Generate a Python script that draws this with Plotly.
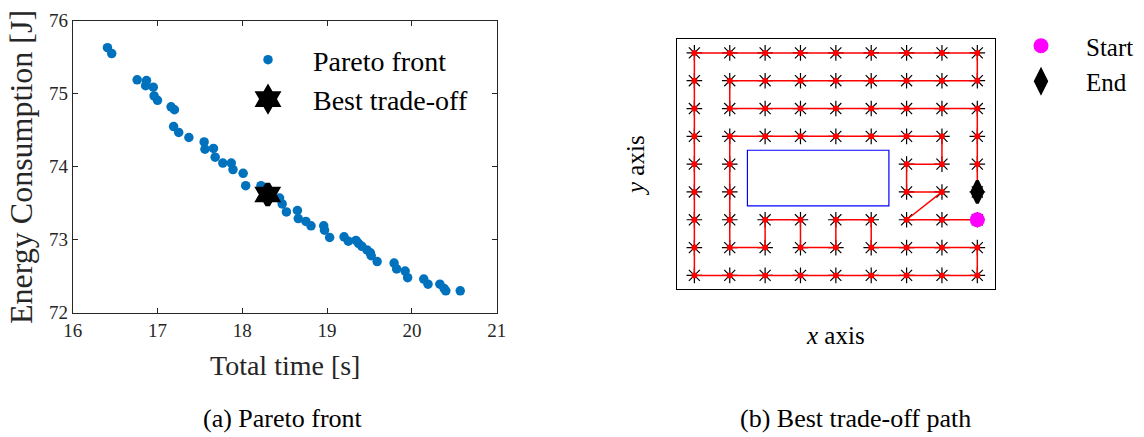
import plotly.graph_objects as go

# ---------------- Pareto front data ----------------
pareto_time = [16.41, 16.46, 16.76, 16.87, 16.86, 16.95, 16.96, 17.00, 17.16, 17.20,
               17.19, 17.25, 17.37, 17.55, 17.56, 17.66, 17.68, 17.77, 17.87, 17.89,
               18.01, 18.04, 18.22, 18.30, 18.44, 18.47, 18.52, 18.65, 18.66, 18.75,
               18.81, 18.96, 18.97, 19.03, 19.20, 19.25, 19.34, 19.37, 19.41, 19.47,
               19.51, 19.52, 19.59, 19.79, 19.82, 19.92, 19.95, 20.14, 20.19, 20.33,
               20.38, 20.40, 20.57]
pareto_energy = [75.63, 75.55, 75.19, 75.18, 75.11, 75.09, 74.97, 74.91, 74.82, 74.78,
                 74.55, 74.47, 74.40, 74.34, 74.24, 74.25, 74.13, 74.05, 74.05, 73.96,
                 73.91, 73.74, 73.74, 73.63, 73.57, 73.49, 73.38, 73.40, 73.29, 73.25,
                 73.19, 73.19, 73.13, 73.03, 73.04, 72.98, 72.99, 72.95, 72.91, 72.86,
                 72.82, 72.78, 72.70, 72.68, 72.60, 72.57, 72.48, 72.46, 72.39, 72.39,
                 72.33, 72.30, 72.30]
best_time = [18.30]
best_energy = [73.62]

time_ticks = [16, 17, 18, 19, 20, 21]
energy_ticks = [72, 73, 74, 75, 76]

# ---------------- Grid path data ----------------
# '*' = free node, '.' = node inside the obstacle; first string is the top row (y = 9)
grid_map = [
    "*********",
    "*********",
    "*********",
    "*********",
    "**....***",
    "**....***",
    "*********",
    "*********",
    "*********",
]
obstacle_x = [2.5, 6.5]
obstacle_y = [3.5, 5.5]

path_x = [9, 8, 7, 8, 7, 7, 8, 8,
          7, 6, 5, 4, 3, 2,
          2, 2, 2, 2,
          3, 3, 4, 4, 5, 5, 6, 6,
          7, 8, 9, 9,
          8, 7, 6, 5, 4, 3, 2, 1,
          1, 1, 1, 1, 1, 1, 1, 1,
          2, 3, 4, 5, 6, 7, 8, 9,
          9, 8, 7, 6, 5, 4, 3, 2,
          2, 3, 4, 5, 6, 7, 8, 9,
          9, 9, 9]
path_y = [3, 3, 3, 4, 4, 5, 5, 6,
          6, 6, 6, 6, 6, 6,
          5, 4, 3, 2,
          2, 3, 3, 2, 2, 3, 3, 2,
          2, 2, 2, 1,
          1, 1, 1, 1, 1, 1, 1, 1,
          2, 3, 4, 5, 6, 7, 8, 9,
          9, 9, 9, 9, 9, 9, 9, 9,
          8, 8, 8, 8, 8, 8, 8, 8,
          7, 7, 7, 7, 7, 7, 7, 7,
          6, 5, 4]
start_xy = (9, 3)
end_xy = (9, 4)

node_x, node_y = [], []
n_rows = len(grid_map)
for i, row in enumerate(grid_map):
    for j, ch in enumerate(row):
        if ch == "*":
            node_x.append(j + 1)
            node_y.append(n_rows - i)

W, H = 1144, 437
SERIF = "Liberation Serif"
AX = "#262626"


def px(x):
    return x / W


def py(y):
    return 1 - y / H


def serif(size, color="black"):
    return dict(family=SERIF, size=size, color=color)


fig = go.Figure()

# (a) Pareto front
fig.add_trace(go.Scatter(
    x=pareto_time, y=pareto_energy, mode="markers", name="Pareto front",
    marker=dict(color="#0072BD", size=9.5), xaxis="x", yaxis="y", legend="legend"))
fig.add_trace(go.Scatter(
    x=best_time, y=best_energy, mode="markers", name="Best trade-off",
    marker=dict(color="black", size=16, symbol="hexagram",
                line=dict(color="black", width=5)),
    xaxis="x", yaxis="y", legend="legend"))

# (b) grid nodes, path, start and end
fig.add_trace(go.Scatter(
    x=node_x, y=node_y, mode="markers", showlegend=False,
    marker=dict(symbol="asterisk-open", size=13, color="black",
                line=dict(color="black", width=1.2)),
    xaxis="x2", yaxis="y2"))
fig.add_trace(go.Scatter(
    x=path_x, y=path_y, mode="lines+markers", showlegend=False,
    line=dict(color="#FF0000", width=1.5),
    marker=dict(color="#FF0000", size=6),
    xaxis="x2", yaxis="y2"))
fig.add_trace(go.Scatter(
    x=[start_xy[0]], y=[start_xy[1]], mode="markers", name="Start",
    marker=dict(color="#FF00FF", size=15), xaxis="x2", yaxis="y2", legend="legend2"))
fig.add_trace(go.Scatter(
    x=[end_xy[0]], y=[end_xy[1]], mode="markers", name="End",
    marker=dict(color="black", size=16, symbol="diamond-tall",
                line=dict(color="black", width=3)),
    xaxis="x2", yaxis="y2", legend="legend2"))

fig.add_shape(type="rect", xref="x2", yref="y2",
              x0=obstacle_x[0], x1=obstacle_x[1], y0=obstacle_y[0], y1=obstacle_y[1],
              line=dict(color="#0000FF", width=1.2), layer="above")

axis_common = dict(showgrid=False, zeroline=False, showline=True, linewidth=1)

fig.update_layout(
    width=W, height=H, margin=dict(l=0, r=0, t=0, b=0, autoexpand=False),
    paper_bgcolor="white", plot_bgcolor="white",
    font=serif(18, AX),
    xaxis=dict(**axis_common, domain=[px(72.7), px(496.7)], range=[16, 21],
               tickvals=time_ticks, ticks="inside", ticklen=5, tickcolor=AX,
               linecolor=AX, mirror="ticks", tickfont=serif(19, AX),
               anchor="y"),
    yaxis=dict(**axis_common, domain=[py(312.7), py(20.7)], range=[72, 76],
               tickvals=energy_ticks, ticks="inside", ticklen=5, tickcolor=AX,
               linecolor=AX, mirror="ticks", tickfont=serif(19, AX),
               anchor="x"),
    xaxis2=dict(**axis_common, domain=[px(676.7), px(995)], range=[0.5, 9.5],
                showticklabels=False, ticks="", linecolor="black", mirror=True,
                anchor="y2"),
    yaxis2=dict(**axis_common, domain=[py(289.3), py(39)], range=[0.5, 9.5],
                showticklabels=False, ticks="", linecolor="black", mirror=True,
                anchor="x2"),
    legend=dict(x=px(223), y=py(35), xanchor="left", yanchor="top",
                bgcolor="rgba(0,0,0,0)", font=serif(28),
                itemwidth=80, itemsizing="trace", tracegroupgap=0),
    legend2=dict(x=px(996), y=py(23), xanchor="left", yanchor="top",
                 bgcolor="rgba(0,0,0,0)", font=serif(25),
                 itemwidth=80, itemsizing="trace", tracegroupgap=0),
    annotations=[
        dict(text="Total time [s]", x=px(285), y=py(365), xref="paper", yref="paper",
             showarrow=False, font=serif(28, AX), xanchor="center", yanchor="middle"),
        dict(text="Energy Consumption [J]", x=px(21), y=py(167), xref="paper", yref="paper",
             showarrow=False, textangle=-90, font=serif(32, AX),
             xanchor="center", yanchor="middle"),
        dict(text="(a) Pareto front", x=px(282.5), y=py(418), xref="paper", yref="paper",
             showarrow=False, font=serif(26), xanchor="center", yanchor="middle"),
        dict(text="(b) Best trade-off path", x=px(855), y=py(418), xref="paper", yref="paper",
             showarrow=False, font=serif(26), xanchor="center", yanchor="middle"),
        dict(text="<i>x</i> axis", x=px(835), y=py(335), xref="paper", yref="paper",
             showarrow=False, font=serif(25), xanchor="center", yanchor="middle"),
        dict(text="<i>y</i> axis", x=px(635), y=py(166), xref="paper", yref="paper",
             showarrow=False, textangle=-90, font=serif(25),
             xanchor="center", yanchor="middle"),
    ],
)

fig.write_html("out.html")
